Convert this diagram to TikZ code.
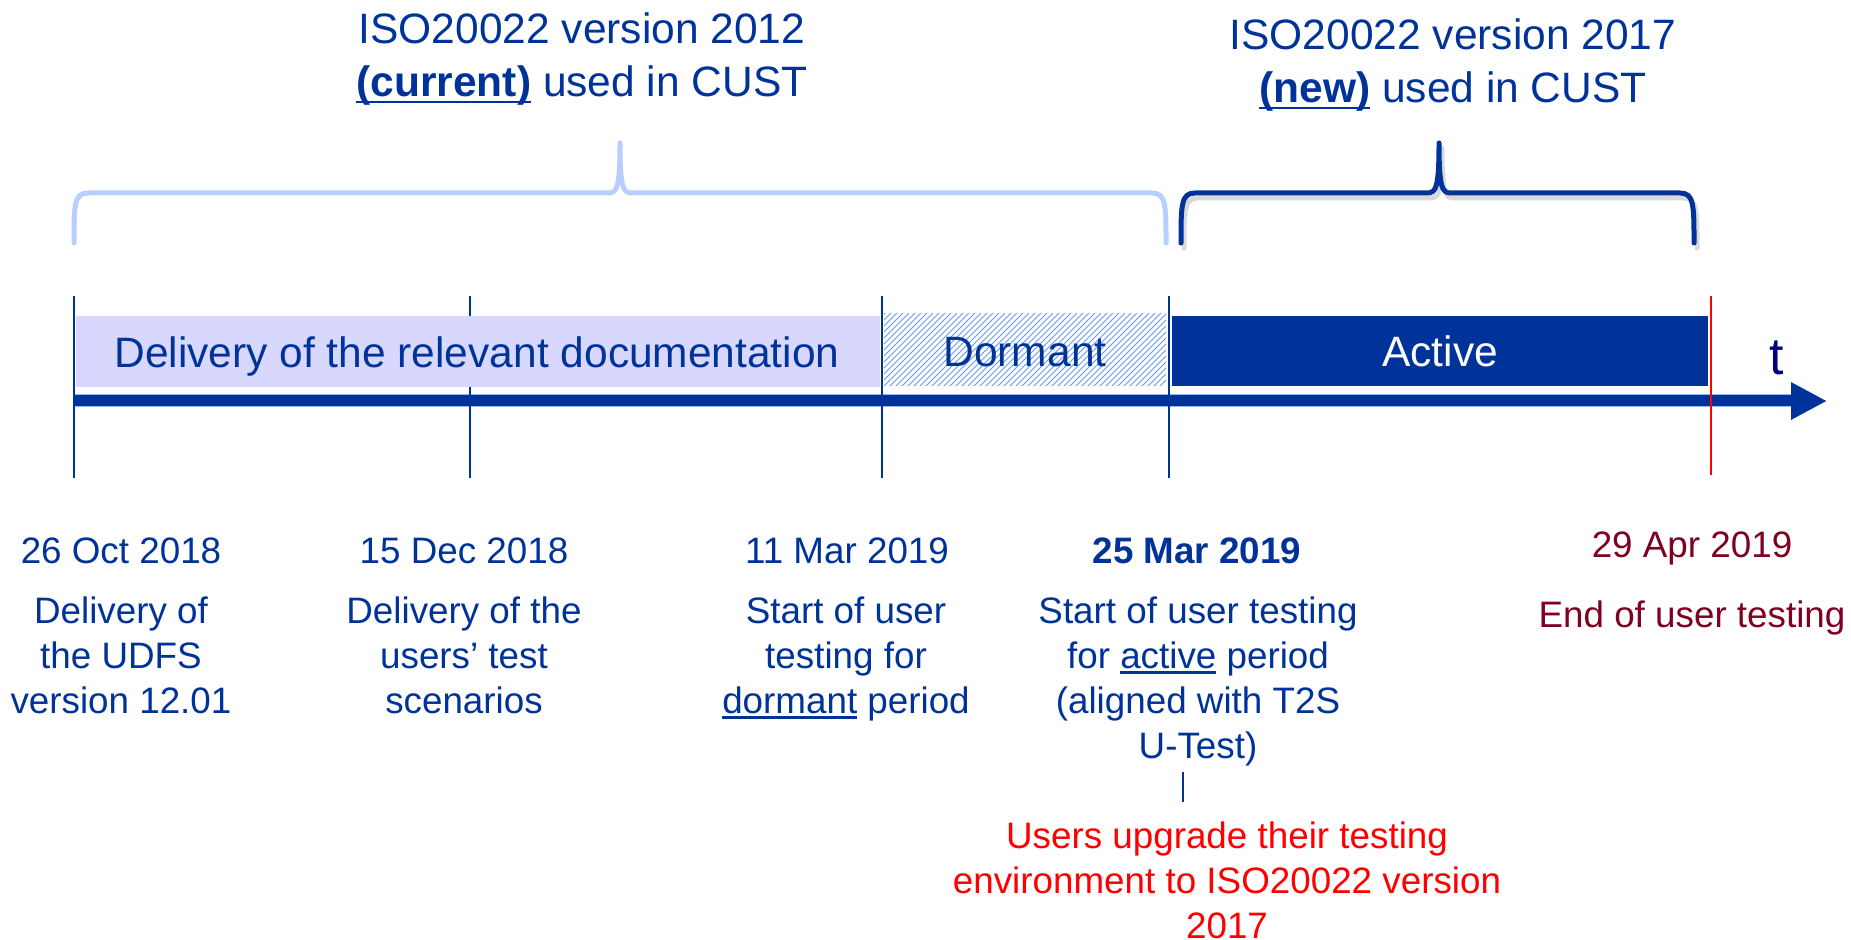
\documentclass[tikz,border=0pt]{standalone}
\usepackage{fontspec}
\setmainfont{Liberation Sans}
\usetikzlibrary{patterns,arrows.meta}
\definecolor{ecbblue}{RGB}{0,51,153}
\definecolor{palebrace}{RGB}{184,206,255}
\definecolor{lavender}{RGB}{216,216,255}
\definecolor{hatchblue}{RGB}{102,153,255}
\definecolor{darkred}{RGB}{128,0,32}
\definecolor{navyt}{RGB}{0,0,128}
\newcommand\ulbox[1]{\setbox0\hbox{#1}\rlap{\rule[-.15em]{\wd0}{.06em}}\box0{}}
\newcommand\timebrace[4]{%
  \draw[bracepen,#1] (#2,243) .. controls (#2,205) and (#2,193) .. (#2+14,193) -- (#3-12,193)
    .. controls (#3-3,193) and (#3,188) .. (#3,143) .. controls (#3,188) and (#3+3,193) .. (#3+12,193)
    -- (#4-14,193) .. controls (#4,193) and (#4,205) .. (#4,243);}

\begin{document}
\begin{tikzpicture}[x=0.5pt,y=-0.5pt,
    lbl/.style={align=center,inner sep=0pt,anchor=base,text=ecbblue},
    big/.style={lbl,font=\fontsize{21.25}{26.5}\selectfont},
    small/.style={lbl,font=\fontsize{18.4}{22.5}\selectfont},
    tick/.style={draw=ecbblue,line width=1pt},
    bracepen/.style={line width=2.5pt,line cap=round,line join=round}]
\useasboundingbox (0,0) rectangle (1851,940);

\node[big] (v12) at (582,97) {ISO20022 version 2012\\\ulbox{\textbf{(current)}} used in CUST};
\node[big] (v17) at (1453,103) {ISO20022 version 2017\\\ulbox{\textbf{(new)}} used in CUST};
\timebrace{palebrace}{74}{620}{1166}
\timebrace{black!15,shift={(3,5)}}{1181}{1439}{1694}
\timebrace{ecbblue}{1181}{1439}{1694}

\coordinate (t0) at (74,401);
\coordinate (tend) at (1827,401);
\draw[hatchblue!70,line width=6.5pt] (t0) -- (1795,401);
\draw[ecbblue,line width=5.5pt,-{Triangle[length=18pt,width=17.5pt]}] (t0) -- (tend);
\node[lbl,font=\fontsize{26}{30}\selectfont,text=navyt] (t) at (1777,375) {t};

\foreach \x [count=\i] in {74,470,882,1169}
  \draw[tick] (\x,296) coordinate (c\i) -- ++(0,182);
\draw[tick,draw=red] (1711,296) coordinate (c5) -- ++(0,179);

\fill[lavender] (76,316) rectangle (880,387);
\fill[pattern=north east lines,pattern color=hatchblue] (884,314) rectangle (1166,386);
\fill[ecbblue] (1172,316) rectangle (1708,386);
\node[big] (doc) at (477,368) {Delivery of the relevant documentation};
\node[big] (dorm) at (1025,367) {Dormant};
\node[big,text=white] (act) at (1440,367) {Active};

\node[small] (d1) at (121,563) {26 Oct 2018};
\node[small] (d2) at (464,563) {15 Dec 2018};
\node[small] (d3) at (847,563) {11 Mar 2019};
\node[small,font=\fontsize{18.4}{22.5}\selectfont\bfseries] (d4) at (1197,563) {25 Mar 2019};
\node[small,text=darkred] (d5) at (1692,557) {29 Apr 2019};

\node[small] (s1) at (121,713) {Delivery of\\the UDFS\\version 12.01};
\node[small] (s2) at (464,713) {Delivery of the\\users’ test\\scenarios};
\node[small] (s3) at (846,713) {Start of user\\testing for\\\ulbox{dormant} period};
\node[small] (s4) at (1198,758) {Start of user testing\\for \ulbox{active} period\\(aligned with T2S\\U-Test)};
\node[small,text=darkred] (s5) at (1692,627) {End of user testing};
\node[small,text=red] (r) at (1227,938) {Users upgrade their testing\\environment to ISO20022 version\\2017};

\draw[tick,shorten <=3pt,shorten >=9.5pt] ([xshift=-7.5pt]s4.south) -- ([xshift=-7.5pt]s4.south |- r.north);
\end{tikzpicture}
\end{document}
